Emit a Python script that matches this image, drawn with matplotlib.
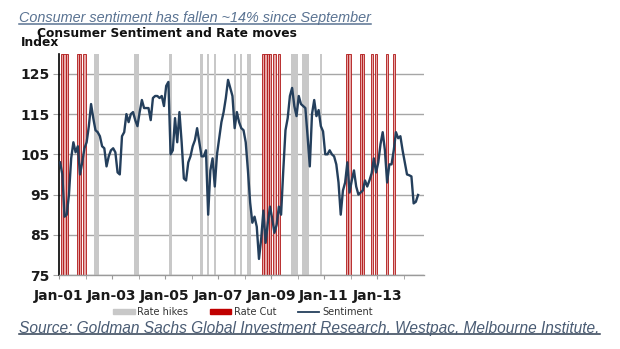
import numpy as np
import matplotlib
matplotlib.use('Agg')
import matplotlib.pyplot as plt
from matplotlib.lines import Line2D
from matplotlib.patches import Patch

# Westpac-MI consumer sentiment, monthly from Jan 2001
sentiment = [
    103, 100, 89.5, 90, 95, 104, 108, 105.5, 107, 100, 103, 106.5,            # 2001
    108, 112, 117.5, 114, 111, 110.5, 109.5, 107, 106.5, 102, 104.5, 106,     # 2002
    106.5, 105.5, 100.5, 100, 109.5, 110.5, 115, 113, 115, 115.5, 113.5, 112, # 2003
    115.5, 118.5, 116.5, 116.5, 116.5, 113.5, 119, 119.5, 119.5, 119, 119.5, 117,  # 2004
    122, 123, 105, 106, 114, 108, 115.5, 108, 99, 98.5, 103, 104.5,           # 2005
    107, 108.5, 111.5, 108, 104.5, 104.5, 106, 90, 101, 104, 97, 105,         # 2006
    109, 113, 115.5, 119, 123.5, 121.5, 119.5, 111.5, 115.5, 113, 111.5, 111, # 2007
    108, 101, 93, 88, 89.5, 87, 79, 84, 91, 83, 88, 92,                       # 2008
    89, 85.5, 87.5, 92, 90, 101, 111, 114, 119.5, 121.5, 117, 114.5,          # 2009
    119.5, 117.5, 117, 116.5, 109.5, 102, 115, 118.5, 114.5, 116, 112, 110.7, # 2010
    105, 105, 106, 105, 104.5, 102.5, 98, 90, 96, 98, 103, 95.5,              # 2011
    98.5, 101, 97, 95, 95.5, 96, 98.5, 97, 98.5, 100.3, 104, 100.5,           # 2012
    103, 107.5, 110.5, 106, 98, 102.5, 102.5, 106, 110.5, 109, 109.5, 106,    # 2013
    103, 100, 99.8, 99.5, 92.8, 93.2, 94.9,                                   # 2014
]

# RBA cash rate moves (month of the decision)
rate_hikes = ['2002-05', '2002-06', '2003-11', '2003-12', '2005-03',
              '2006-05', '2006-08', '2006-11', '2007-08', '2007-11',
              '2008-02', '2008-03', '2009-10', '2009-11', '2009-12',
              '2010-03', '2010-04', '2010-05', '2010-11']
rate_cuts = ['2001-02', '2001-03', '2001-04', '2001-09', '2001-10', '2001-12',
             '2008-09', '2008-10', '2008-11', '2008-12', '2009-02', '2009-04',
             '2011-11', '2011-12', '2012-05', '2012-06', '2012-10', '2012-12',
             '2013-05', '2013-08']

x_labels = ['Jan-01', 'Jan-03', 'Jan-05', 'Jan-07', 'Jan-09', 'Jan-11', 'Jan-13']
y_ticks = [75, 85, 95, 105, 115, 125]

line_col = '#243f5c'
hike_col = '#c8c8c8'
cut_col = '#c00000'


def month_index(s):
    y, m = s.split('-')
    return (int(y) - 2001) * 12 + int(m) - 1


fig = plt.figure(figsize=(6.2, 3.49), dpi=100)
ax = fig.add_axes([0.0952, 0.212, 0.5887, 0.634])

for s in rate_hikes:
    k = month_index(s)
    ax.axvspan(k, k + 1, color=hike_col, lw=0, zorder=1)
for s in rate_cuts:
    k = month_index(s)
    ax.axvspan(k, k + 1, facecolor='#e6a8a8', edgecolor='#b01515', lw=0.6, zorder=1)

months = np.arange(len(sentiment)) + 0.5
ax.plot(months, sentiment, color=line_col, lw=1.7, zorder=3)

ax.set_xlim(0, 165.2)
ax.set_ylim(75, 130)
ax.set_yticks(y_ticks)
ax.set_xticks(np.arange(0, 24 * len(x_labels), 24))
ax.set_xticklabels(x_labels)
ax.set_xticks(np.arange(12, 168, 24), minor=True)
ax.grid(axis='y', color='#a6a6a6', lw=1.0, zorder=0)
ax.set_axisbelow(True)

for side in ['top', 'right']:
    ax.spines[side].set_visible(False)
ax.spines['left'].set_color('black')
ax.spines['left'].set_linewidth(1.2)
ax.spines['bottom'].set_color('#9a9a9a')
ax.spines['bottom'].set_linewidth(1.0)

ax.tick_params(axis='x', which='both', length=3, color='#9a9a9a', pad=7)
ax.tick_params(axis='y', length=4, color='#a6a6a6', pad=3)
for lab in ax.get_xticklabels() + ax.get_yticklabels():
    lab.set_fontweight('bold')
    lab.set_fontsize(10)
    lab.set_color('#1a1a1a')

# headings
t1 = fig.text(0.031, 0.948, 'Consumer sentiment has fallen ~14% since September',
              family='Liberation Sans', style='italic', fontsize=10.4,
              color='#5a7392', va='center')
fig.text(0.06, 0.905, 'Consumer Sentiment and Rate moves', fontweight='bold',
         fontsize=8.8, color='#111111', va='center')
fig.text(0.034, 0.878, 'Index', fontweight='bold', fontsize=8.8,
         color='#111111', va='center')
t2 = fig.text(0.031, 0.06, 'Source: Goldman Sachs Global Investment Research, Westpac, Melbourne Institute.',
              family='Liberation Sans', style='italic', fontsize=11.2,
              color='#4a5c74', va='center')

handles = [Patch(color=hike_col, label='Rate hikes'),
           Patch(color=cut_col, label='Rate Cut'),
           Line2D([], [], color=line_col, lw=1.3, label='Sentiment')]
fig.legend(handles=handles, loc='center', bbox_to_anchor=(0.392, 0.106), ncol=3,
           frameon=False, fontsize=7, handlelength=2.2, handleheight=0.5,
           handletextpad=0.3, columnspacing=2.2, labelcolor='#333333')

# underline the two italic notes
renderer = fig.canvas.get_renderer()
for t, col in [(t1, '#5a7392'), (t2, '#2f3e52')]:
    bb = t.get_window_extent(renderer).transformed(fig.transFigure.inverted())
    fig.add_artist(Line2D([bb.x0, bb.x1], [bb.y0 + 0.004, bb.y0 + 0.004],
                          color=col, lw=1.1, transform=fig.transFigure))

fig.savefig('out.png', dpi=100)
